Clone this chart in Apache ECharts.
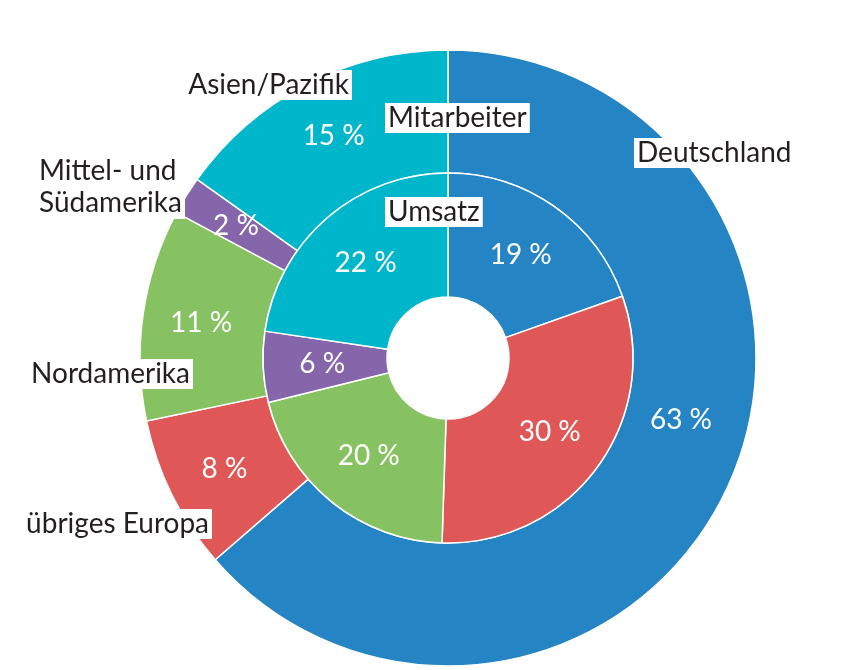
<!DOCTYPE html>
<html>
<head>
<meta charset="utf-8">
<script src="https://cdn.jsdelivr.net/npm/echarts@6/dist/echarts.min.js"></script>
<style>
html,body{margin:0;padding:0;background:#fff;}
#chart{width:868px;height:670px;}
</style>
</head>
<body>
<div id="chart"></div>
<script>
// Data
const categories = ['Deutschland', 'übriges Europa', 'Nordamerika', 'Mittel- und Südamerika', 'Asien/Pazifik'];
const mitarbeiter = [63, 8, 11, 2, 15];   // outer ring
const umsatz = [19, 30, 20, 6, 22];       // inner ring
const colors = ['#2584c3', '#e05757', '#86c262', '#8566aa', '#00b6cb'];

const FONT = 'Lato, "Noto Sans", sans-serif';
const TXT = '#231f20';
const FS = 28;

function makeData(vals) {
  return vals.map((v, i) => ({ name: categories[i], value: v, itemStyle: { color: colors[i] } }));
}

const commonSeries = {
  type: 'pie',
  center: [448, 358],
  startAngle: 90,
  clockwise: true,
  avoidLabelOverlap: false,
  silent: true,
  label: {
    show: true,
    position: 'inside',
    formatter: '{c} %',
    color: '#ffffff',
    fontFamily: FONT,
    fontSize: FS
  },
  labelLine: { show: false },
  itemStyle: { borderColor: '#ffffff', borderWidth: 1.5 },
  emphasis: { disabled: true }
};

function textEl(text, x, y, align, extra) {
  return Object.assign({
    type: 'text',
    z: 100,
    style: {
      text: text,
      x: x,
      y: y,
      align: align,
      verticalAlign: 'middle',
      fill: TXT,
      font: FS + 'px ' + FONT,
      backgroundColor: '#ffffff',
      padding: [1, 3, 1, 3]
    }
  }, extra || {});
}

const chart = echarts.init(document.getElementById('chart'), null, { renderer: 'canvas' });
chart.setOption({
  animation: false,
  backgroundColor: '#ffffff',
  series: [
    Object.assign({}, commonSeries, {
      name: 'Mitarbeiter',
      radius: [185, 308],
      data: makeData(mitarbeiter),
      labelLayout: function (p) { return p.dataIndex === 0 ? { dx: 6, dy: -42 } : {}; }
    }),
    Object.assign({}, commonSeries, {
      name: 'Umsatz',
      radius: [61, 185],
      data: makeData(umsatz)
    })
  ],
  graphic: [
    textEl(categories[0], 634, 153, 'left'),
    textEl(categories[4], 352, 85, 'right'),
    textEl('Mitarbeiter', 385, 118, 'left'),
    textEl('Umsatz', 385, 212, 'left'),
    {
      type: 'text', z: 100,
      style: {
        text: 'Mittel- und\nSüdamerika', x: 36, y: 187, align: 'left', verticalAlign: 'middle',
        fill: TXT, font: FS + 'px ' + FONT, lineHeight: 32, backgroundColor: '#ffffff', padding: [0, 3, 0, 3]
      }
    },
    textEl(categories[2], 193, 374, 'right'),
    textEl(categories[1], 212, 524, 'right')
  ]
});
</script>
</body>
</html>
